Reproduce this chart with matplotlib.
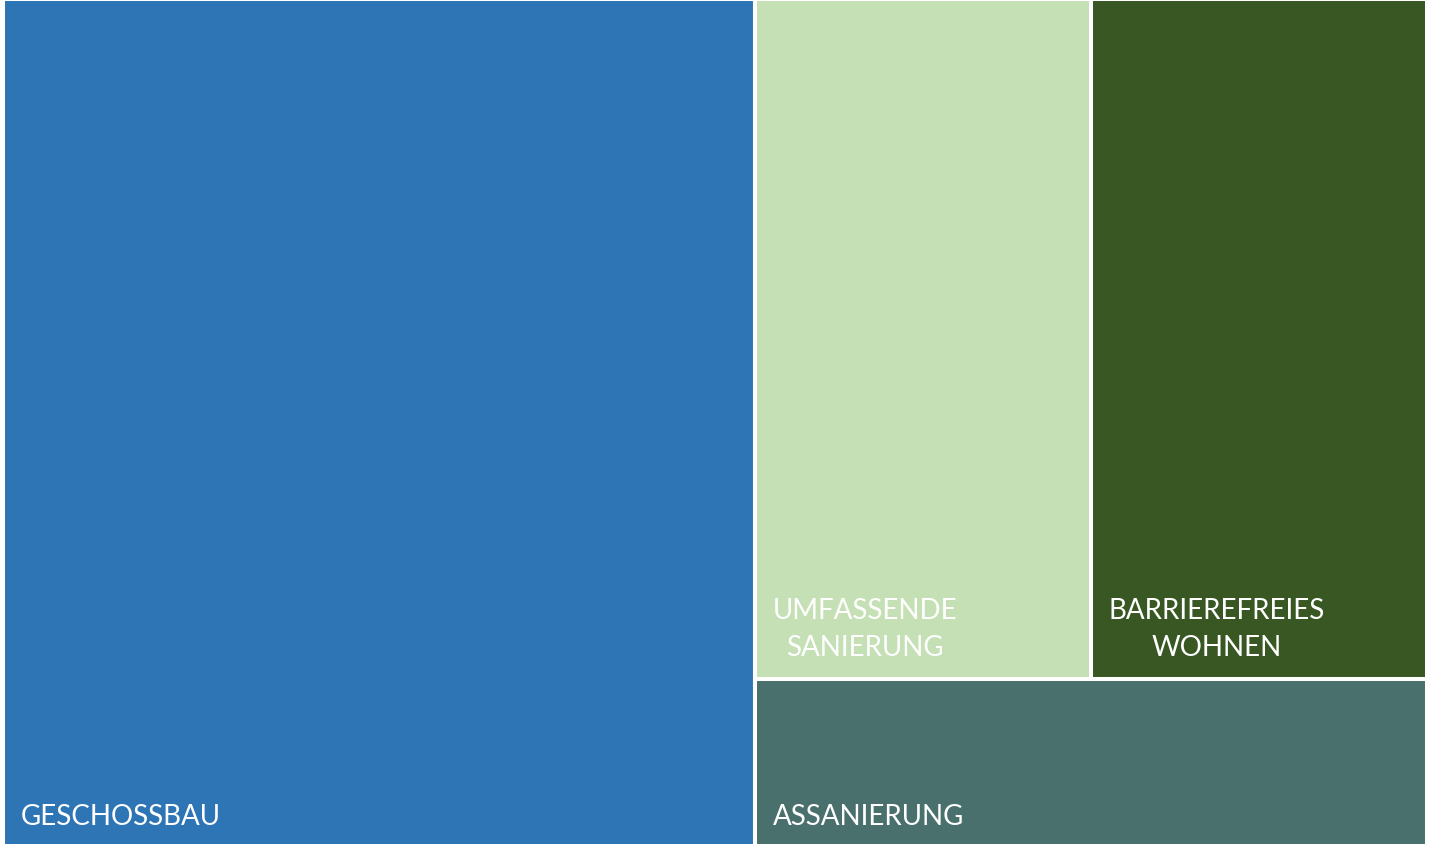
import matplotlib.pyplot as plt
from matplotlib.patches import Rectangle

# treemap shares (percent)
labels = ["GESCHOSSBAU", "UMFASSENDE\nSANIERUNG", "BARRIEREFREIES\nWOHNEN", "ASSANIERUNG"]
values = [52.8, 18.9, 18.9, 9.4]
colors = ["#2E75B6", "#C5E0B4", "#385723", "#4A706E"]

W, H = 1430, 845
fig = plt.figure(figsize=(W / 100, H / 100), dpi=100)
ax = fig.add_axes([3 / W, -4 / H, 1424 / W, 849 / H])
ax.set_xlim(0, 1)
ax.set_ylim(0, 1)
ax.axis("off")

total = sum(values)
# first item fills a column on the left, the rest share the remaining area:
# a row of two on top, the last one as a strip along the bottom
x0 = values[0] / total
rest = total - values[0]
top = values[1] + values[2]
y_split = values[3] / rest
rects = [
    (0, 0, x0, 1),
    (x0, y_split, (1 - x0) * values[1] / top, 1 - y_split),
    (x0 + (1 - x0) * values[1] / top, y_split, (1 - x0) * values[2] / top, 1 - y_split),
    (x0, 0, 1 - x0, y_split),
]

for (x, y, w, h), lab, col in zip(rects, labels, colors):
    ax.add_patch(Rectangle((x, y), w, h, facecolor=col, edgecolor="white", linewidth=2.9))
    ax.annotate(lab, xy=(x, y), xytext=(13, 13.5), textcoords="offset points",
                ha="left", va="bottom", multialignment="center",
                color="white", fontsize=20, family="Lato", linespacing=1.52)

fig.savefig("out.png", dpi=100)
